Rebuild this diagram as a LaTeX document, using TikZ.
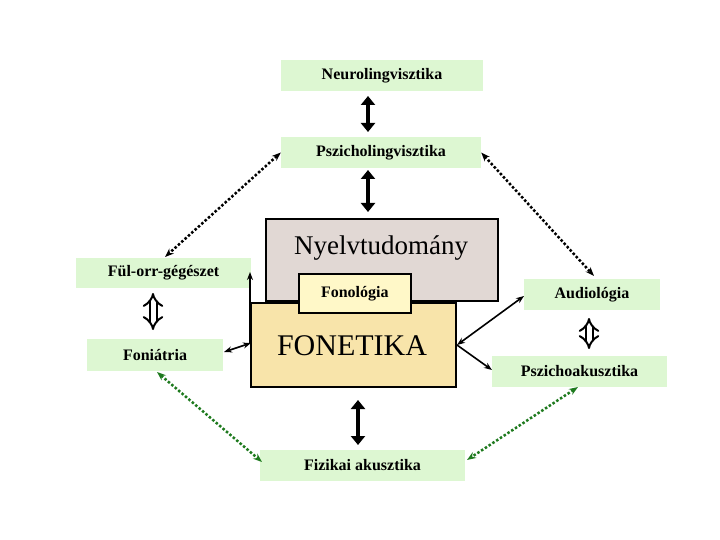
\documentclass[tikz,border=0pt]{standalone}
\usepackage{fontspec}
\setmainfont{Liberation Serif}
\usetikzlibrary{arrows.meta}
\definecolor{gbox}{HTML}{DDF7D2}
\definecolor{nyelv}{HTML}{E1D8D4}
\definecolor{fon}{HTML}{F8E4AA}
\definecolor{fonol}{HTML}{FFF8C8}
\definecolor{dgreen}{HTML}{1E7A1E}
\tikzset{
 gb/.style={fill=gbox,font=\bfseries\fontsize{16}{18}\selectfont,inner sep=0pt},
 thick2/.style={line width=4pt,{Triangle[length=9pt,width=14pt]}-{Triangle[length=9pt,width=14pt]}},
 hollow/.style={double,double distance=5pt,line width=2pt,{Implies}-{Implies}},
 dotb/.style={line width=2.5pt,dotted,{Stealth[length=9pt]}-{Stealth[length=9pt]}},
 thin/.style={line width=1.6pt,{Stealth[length=8pt]}-{Stealth[length=8pt]}},
}
\begin{document}
\begin{tikzpicture}[x=1pt,y=-1pt]
\useasboundingbox (0,0) rectangle (720,540);
\node[gb,minimum width=202,minimum height=31] (neuro) at (382,75.5) {Neurolingvisztika};
\node[gb,minimum width=200,minimum height=31] (pszl) at (381,152.5) {Pszicholingvisztika};
\node[draw,line width=1.6pt,fill=nyelv,minimum width=232,minimum height=82,anchor=north west] (nyelv) at (265,218) {};
\node[font=\fontsize{27}{30}\selectfont] (nyt) at (381,248) {Nyelvtudomány};
\node[draw,line width=1.6pt,fill=fon,minimum width=205,minimum height=84,anchor=north west] (fon) at (250,302) {};
\node[font=\fontsize{30}{32}\selectfont] (fot) at (352,346) {FONETIKA};
\node[draw,line width=1.6pt,fill=fonol,minimum width=112,minimum height=39,anchor=north west,font=\bfseries\fontsize{16}{18}\selectfont] (fonol) at (298,273) {Fonológia};
\node[gb,minimum width=175,minimum height=30] (ful) at (163.5,273) {Fül-orr-gégészet};
\node[gb,minimum width=136,minimum height=32] (fonia) at (155,355) {Foniátria};
\node[gb,minimum width=136,minimum height=31] (audio) at (592,294.5) {Audiológia};
\node[gb,minimum width=175,minimum height=31] (pak) at (579.5,371.5) {Pszichoakusztika};
\node[gb,minimum width=205,minimum height=31] (fiz) at (362.5,465.5) {Fizikai akusztika};
\draw[thick2] (368,96) -- (368,132);
\draw[thick2] (368,170) -- (368,212);
\draw[thick2] (358,400) -- (358,445);
\draw[hollow] (153,293) -- (153,330);
\draw[hollow] (589,318) -- (589,349);
\draw[dotb] (pszl.west) -- (165,257);
\draw[dotb] (pszl.east) -- (594,276);
\draw[dotb,dgreen] (157,372) -- (262,462);
\draw[dotb,dgreen] (578,387) -- (467,460);
\draw[thin] (224,352) -- (251,343);
\draw[line width=1.6pt,-{Stealth[length=8pt]}] (250,343) -- (250,272);
\draw[thin] (457,345) -- (524,296);
\draw[line width=1.6pt,-{Stealth[length=8pt]}] (457,345) -- (492,370);
\end{tikzpicture}
\end{document}
